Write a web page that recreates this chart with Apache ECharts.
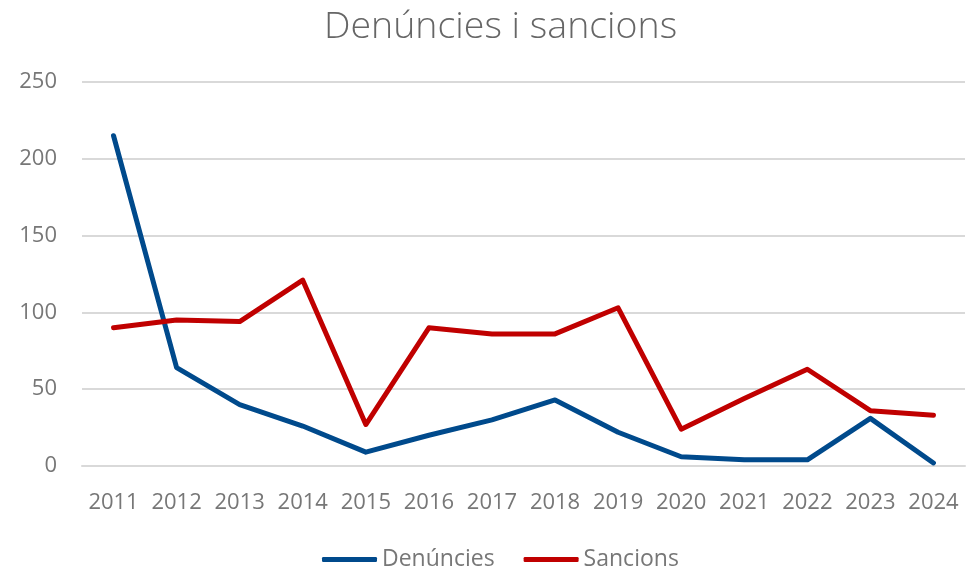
<!DOCTYPE html>
<html>
<head>
<meta charset="utf-8">
<script src="https://cdn.jsdelivr.net/npm/echarts@6/dist/echarts.min.js"></script>
<style>html,body{margin:0;padding:0;background:#fff}#c{width:973px;height:569px}</style>
</head>
<body>
<div id="c"></div>
<script>
const categories = ['2011','2012','2013','2014','2015','2016','2017','2018','2019','2020','2021','2022','2023','2024'];
const denuncies = [215, 64, 40, 26, 9, 20, 30, 43, 22, 6, 4, 4, 31, 2];
const sancions = [90, 95, 94, 121, 27, 90, 86, 86, 103, 24, 44, 63, 36, 33];
const yTicks = [0, 50, 100, 150, 200, 250];

const chart = echarts.init(document.getElementById('c'));
const font = "'Open Sans', sans-serif";
chart.setOption({
  animation: false,
  backgroundColor: '#fff',
  title: {
    text: 'Denúncies i sancions',
    left: 319,
    top: 3,
    textStyle: { fontFamily: font, fontWeight: 300, fontSize: 37.5, color: '#666666' }
  },
  legend: {
    bottom: -7,
    left: 317,
    itemWidth: 55,
    itemHeight: 5,
    itemGap: 29,
    icon: 'roundRect',
    textStyle: { fontFamily: font, fontWeight: 400, fontSize: 23, color: '#777777' },
    data: ['Denúncies', 'Sancions']
  },
  grid: { left: 82, right: 8, top: 82, bottom: 103, containLabel: false },
  xAxis: {
    type: 'category',
    data: categories,
    boundaryGap: true,
    axisLine: { show: true, lineStyle: { color: '#d9d9d9', width: 2 } },
    axisTick: { show: false },
    axisLabel: { fontFamily: font, fontWeight: 400, fontSize: 22, color: '#777777', margin: 26, interval: 0 }
  },
  yAxis: {
    type: 'value',
    min: yTicks[0],
    max: yTicks[yTicks.length - 1],
    interval: 50,
    axisLine: { show: false },
    axisTick: { show: false },
    splitLine: { lineStyle: { color: '#d9d9d9', width: 2 } },
    axisLabel: { fontFamily: font, fontWeight: 400, fontSize: 22, color: '#777777', margin: 25 }
  },
  series: [
    {
      name: 'Denúncies', type: 'line', data: denuncies, symbol: 'none',
      lineStyle: { color: '#004A8C', width: 5, cap: 'round', join: 'round' },
      itemStyle: { color: '#004A8C' }
    },
    {
      name: 'Sancions', type: 'line', data: sancions, symbol: 'none',
      lineStyle: { color: '#C00000', width: 5, cap: 'round', join: 'round' },
      itemStyle: { color: '#C00000' }
    }
  ]
});
</script>
</body>
</html>
